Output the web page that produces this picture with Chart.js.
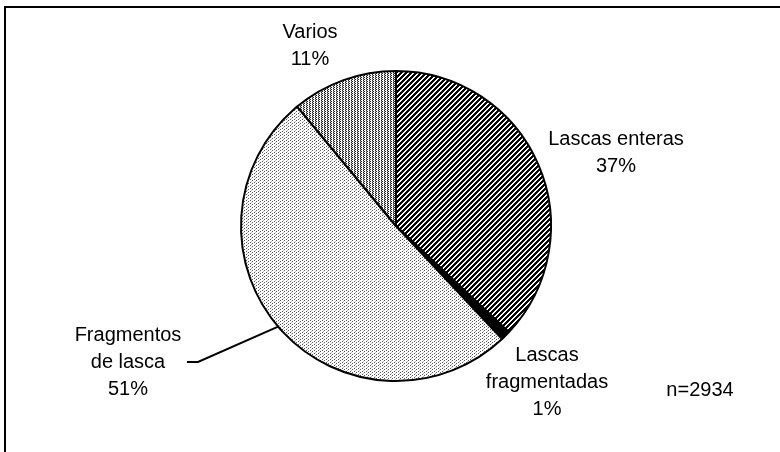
<!DOCTYPE html>
<html>
<head>
<meta charset="utf-8">
<script src="https://cdn.jsdelivr.net/npm/chart.js@4/dist/chart.umd.min.js"></script>
<style>
  html, body { margin: 0; padding: 0; background: #fff; }
  #wrap { width: 780px; height: 452px; position: relative; }
</style>
</head>
<body>
<div id="wrap"><canvas id="pie" width="780" height="452"></canvas></div>
<script>
// Composición de la muestra lítica (n=2934)
const categories = ["Lascas enteras", "Lascas fragmentadas", "Fragmentos de lasca", "Varios"];
const labelLines = [["Lascas enteras"], ["Lascas", "fragmentadas"], ["Fragmentos", "de lasca"], ["Varios"]];
const percents = [37, 1, 51, 11];
const totalN = 2934;

// label anchor offsets from the pie centre (first line), in px
const labelOffsets = [[220, -87], [151, 129], [-268, 109], [-86, -194]];
const lineGap = 27;

function makePattern(w, h, draw) {
  const c = document.createElement("canvas");
  c.width = w; c.height = h;
  const g = c.getContext("2d");
  g.fillStyle = "#fff";
  g.fillRect(0, 0, w, h);
  draw(g);
  return document.getElementById("pie").getContext("2d").createPattern(c, "repeat");
}

// dense "/" hatching, dark
const hatch = makePattern(5, 5, (g) => {
  g.fillStyle = "#000";
  for (let x = 0; x < 5; x++) {
    for (let y = 0; y < 5; y++) {
      if ((x + y) % 5 >= 2) g.fillRect(x, y, 1, 1);
    }
  }
});
// light sparse dots
const lightDots = makePattern(4, 3, (g) => {
  g.fillStyle = "#555";
  g.fillRect(0, 0, 1, 1);
  g.fillRect(2, 2, 1, 1);
  g.fillStyle = "#bbb";
  g.fillRect(3, 1, 1, 1);
});
// medium dots with vertical grain
const medDots = makePattern(3, 2, (g) => {
  g.fillStyle = "#222";
  g.fillRect(0, 0, 1, 1);
  g.fillRect(1, 1, 1, 1);
  g.fillStyle = "#999";
  g.fillRect(0, 1, 1, 1);
});

const fills = [hatch, "#000", lightDots, medDots];

const annotate = {
  id: "annotate",
  afterDraw(chart) {
    const ctx = chart.ctx;
    const arc = chart.getDatasetMeta(0).data[0];
    const cx = arc.x, cy = arc.y, r = arc.outerRadius;
    ctx.save();
    ctx.fillStyle = "#000";
    ctx.font = "20px 'Liberation Sans', Arial, sans-serif";
    ctx.textAlign = "center";
    ctx.textBaseline = "middle";
    labelLines.forEach((lines, i) => {
      const [dx, dy] = labelOffsets[i];
      const all = lines.concat([percents[i] + "%"]);
      all.forEach((t, j) => ctx.fillText(t, cx + dx, cy + dy + j * lineGap));
    });
    ctx.fillText("n=" + totalN, cx + 304, cy + 164);

    // leader line for Fragmentos de lasca
    const ang = 139.5 * Math.PI / 180;
    ctx.strokeStyle = "#000";
    ctx.lineWidth = 2;
    ctx.beginPath();
    ctx.moveTo(cx - 209, cy + 136);
    ctx.lineTo(cx - 198, cy + 136);
    ctx.lineTo(cx + Math.cos(ang) * r, cy + Math.sin(ang) * r);
    ctx.stroke();

    // frame (top and left edges)
    ctx.beginPath();
    ctx.moveTo(5, 452);
    ctx.lineTo(5, 7);
    ctx.lineTo(780, 7);
    ctx.stroke();
    ctx.restore();
  }
};

new Chart(document.getElementById("pie"), {
  type: "pie",
  data: {
    labels: categories,
    datasets: [{
      data: percents,
      backgroundColor: fills,
      borderColor: "#000",
      borderWidth: 2
    }]
  },
  options: {
    responsive: false,
    animation: false,
    layout: { padding: { left: 240, right: 228, top: 70, bottom: 70 } },
    plugins: {
      legend: { display: false },
      tooltip: { enabled: false }
    }
  },
  plugins: [annotate]
});
</script>
</body>
</html>
